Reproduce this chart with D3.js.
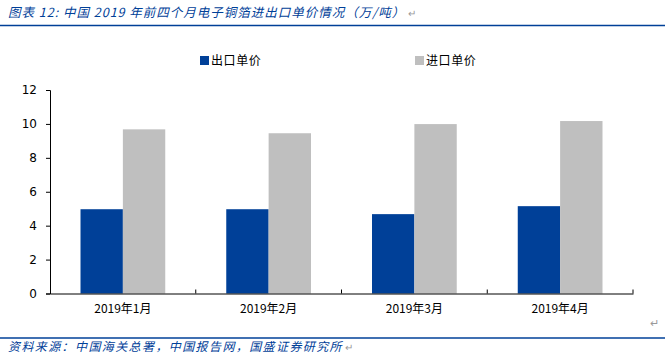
<!DOCTYPE html>
<html><head><meta charset="utf-8">
<script src="https://cdn.jsdelivr.net/npm/d3@7"></script>
<style>body{margin:0;background:#fff}svg{display:block}</style>
</head><body>
<svg id="c" width="665" height="359"></svg>
<script>
const categories = ["2019年1月","2019年2月","2019年3月","2019年4月"];
const seriesNames = ["出口单价","进口单价"];
const exportPrice = [4.97, 4.97, 4.68, 5.15];
const importPrice = [9.68, 9.45, 9.99, 10.17];
const yTicks = [0,2,4,6,8,10,12];
const colors = ["#004098","#BFBFBF"];

const svg = d3.select("#c");
const m = {left:50, right:633, top:90, bottom:293.5};
const x = d3.scaleBand().domain(categories).range([m.left, m.right]).paddingInner(0).paddingOuter(0);
const y = d3.scaleLinear().domain([0,12]).range([m.bottom, m.top]);
const inner = d3.scaleBand().domain(seriesNames).range([0, x.bandwidth()]).paddingOuter(0.72).paddingInner(0);

function withReturn(t, gap){
  const n = t.node();
  const w = n.getComputedTextLength();
  svg.append("text").attr("x", +t.attr("x") + w + gap).attr("y", +t.attr("y"))
    .attr("fill","#999").attr("font-size",10).text("↵");
}

// title
const title = svg.append("text").attr("x",8).attr("y",17).attr("fill","#004098")
  .attr("font-family","'Noto Sans CJK SC',sans-serif").attr("font-size",12.5).attr("font-style","italic")
  .attr("letter-spacing",1.0)
  .text("图表 12:  中国 2019 年前四个月电子铜箔进出口单价情况（万/吨）");
withReturn(title, 3);
svg.append("line").attr("x1",0).attr("x2",665).attr("y1",25.5).attr("y2",25.5).attr("stroke","#004098").attr("stroke-width",1.5);

// footer
svg.append("line").attr("x1",0).attr("x2",665).attr("y1",338).attr("y2",338).attr("stroke","#004098").attr("stroke-width",1.5);
const src = svg.append("text").attr("x",8).attr("y",351).attr("fill","#004098")
  .attr("font-family","'Noto Sans CJK SC',sans-serif").attr("font-size",12).attr("font-style","italic")
  .attr("letter-spacing",1.4)
  .text("资料来源：中国海关总署，中国报告网，国盛证券研究所");
withReturn(src, 2);
svg.append("text").attr("x",650).attr("y",327).attr("fill","#999").attr("font-size",11).text("↵");

// bars
const data = categories.map((c,i)=>({c, vals:[exportPrice[i], importPrice[i]]}));
const g = svg.append("g");
data.forEach(d=>{
  d.vals.forEach((v,j)=>{
    g.append("rect").attr("x", x(d.c)+inner(seriesNames[j])).attr("width", inner.bandwidth())
      .attr("y", y(v)).attr("height", y(0)-y(v)).attr("fill", colors[j]);
  });
});

// y axis
const ya = svg.append("g").attr("transform",`translate(${m.left},0)`)
  .call(d3.axisLeft(y).tickValues(yTicks).tickSize(4).tickPadding(9).tickFormat(d3.format("d")));
ya.select(".domain").attr("stroke","#000");
ya.selectAll("text").attr("font-family","Tahoma,'DejaVu Sans',sans-serif").attr("font-size",12).attr("fill","#000");

// x axis
const xa = svg.append("g").attr("transform",`translate(0,${m.bottom})`)
  .call(d3.axisBottom(x).tickSize(0).tickPadding(11));
xa.select(".domain").attr("stroke","#000");
xa.selectAll("text").attr("font-family","'Noto Sans CJK SC',sans-serif").attr("font-size",12).attr("fill","#000");
xa.selectAll(".bt").data(categories).enter().append("line")
  .attr("x1",(d,i)=> m.left + x.bandwidth()*(i+1)).attr("x2",(d,i)=> m.left + x.bandwidth()*(i+1))
  .attr("y1",0).attr("y2",-4).attr("stroke","#000");

// legend
const leg = [{n:seriesNames[0], c:colors[0], x:200},{n:seriesNames[1], c:colors[1], x:415}];
leg.forEach(l=>{
  svg.append("rect").attr("x",l.x).attr("y",56).attr("width",9).attr("height",9).attr("fill",l.c);
  svg.append("text").attr("x",l.x+11).attr("y",64.5).attr("font-family","'Noto Sans CJK SC',sans-serif")
    .attr("font-size",12).attr("letter-spacing",0.6).attr("fill","#000").text(l.n);
});
</script>
</body></html>
